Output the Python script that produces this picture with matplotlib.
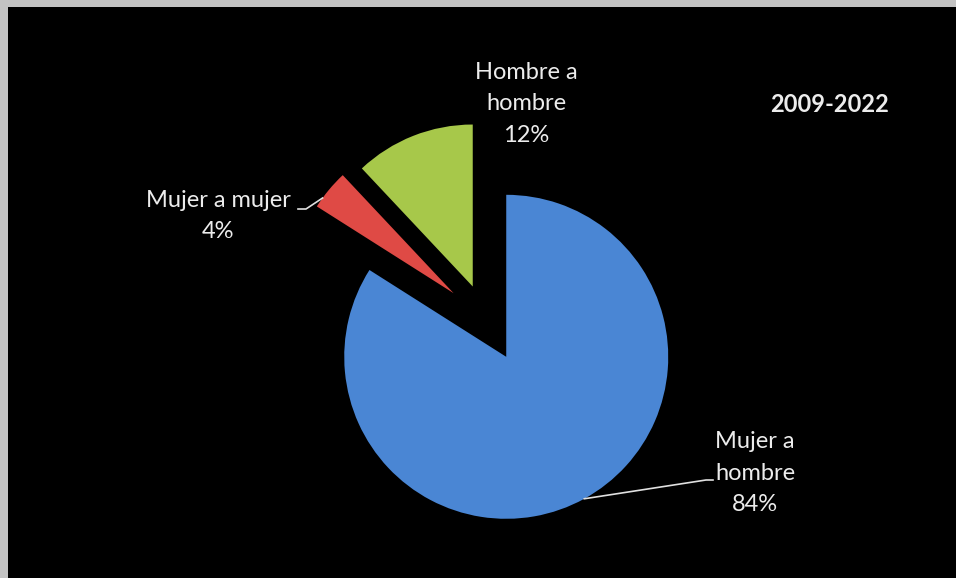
import numpy as np
import matplotlib
matplotlib.use("Agg")
import matplotlib.pyplot as plt

# datos
categorias = ["Mujer a hombre", "Mujer a mujer", "Hombre a hombre"]
etiquetas = ["Mujer a\nhombre", "Mujer a mujer", "Hombre a\nhombre"]
porcentajes = [84, 4, 12]
periodo = "2009-2022"

colores = ["#4a86d4", "#df4a45", "#a7c84a"]

plt.rcParams['font.family'] = ['Lato', 'DejaVu Sans']

fig = plt.figure(figsize=(9.56, 5.78), dpi=100)
fig.patch.set_facecolor("#c3c3c3")

# area negra, 1 unidad = 1 pixel
ax = fig.add_axes([8 / 956, 0, 948 / 956, 571 / 578])
ax.set_facecolor("black")

centro = (478, 258)
radio = 162
explode = [42, 42, 36]

wedges, _ = ax.pie(porcentajes, colors=colores, startangle=90, counterclock=False,
                   center=centro, radius=radio, explode=explode, frame=True,
                   wedgeprops=dict(linewidth=0))

ax.set_xlim(0, 948)
ax.set_ylim(0, 571)
ax.set_aspect("equal")
ax.set_xticks([])
ax.set_yticks([])
for s in ax.spines.values():
    s.set_visible(False)

txt = dict(color="#ececec", fontsize=17, ha="center", va="center", linespacing=1.6)


def punto(w, f, dr=0):
    a = np.deg2rad(w.theta1 + f * (w.theta2 - w.theta1))
    return (w.center[0] + (w.r + dr) * np.cos(a), w.center[1] + (w.r + dr) * np.sin(a))


# etiquetas
ax.text(518, 474, "%s\n%d%%" % (etiquetas[2], porcentajes[2]), **txt)
ax.text(210, 362, "%s\n%d%%" % (etiquetas[1], porcentajes[1]), **txt)
ax.text(747, 105, "%s\n%d%%" % (etiquetas[0], porcentajes[0]), **txt)
ax.text(822, 473, periodo, color="#ececec", fontsize=17, fontweight="bold",
        ha="center", va="center")

# lineas guia
px, py = punto(wedges[1], 0.75)
ax.plot([290, 298, px], [369, 369, py], color="#e0e0e0", lw=1.2)
bx, by = punto(wedges[0], 0.5)
ax.plot([705, 698, bx], [98, 98, by], color="#e0e0e0", lw=1.2)

fig.savefig("out.png", dpi=100, facecolor=fig.get_facecolor())
